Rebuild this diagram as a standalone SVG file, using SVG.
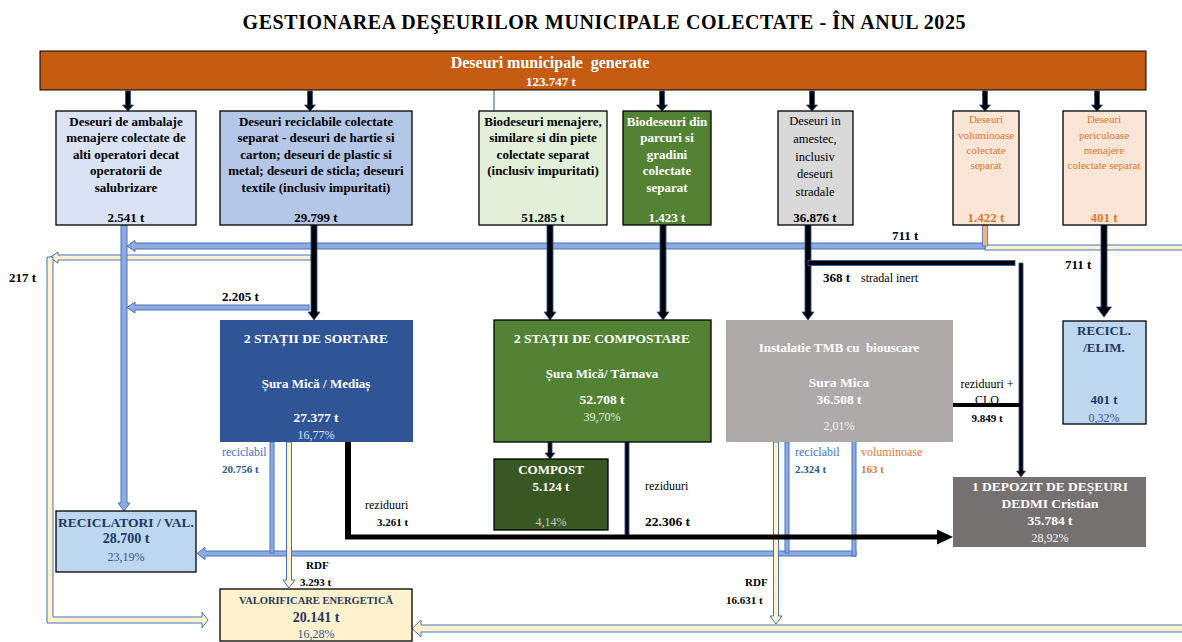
<svg xmlns="http://www.w3.org/2000/svg" width="1182" height="642" viewBox="0 0 1182 642">
<style>
text{font-family:"Liberation Serif","Times New Roman",serif;}
.b{font-weight:bold;}
.c{text-anchor:middle;}
.f12{font-size:13px;}
.f11{font-size:11px;}
.f13{font-size:13.5px;}
.f14{font-size:14px;}
.box{stroke:#000;stroke-width:1.3;}
.bk{fill:#000;stroke:#2F5597;stroke-width:0.9;}
.bl{fill:#8FAADC;stroke:#4472C4;stroke-width:1;}
.cr{fill:#FFF2CC;stroke:#4472C4;stroke-width:1;}
.wh{fill:#fff;}
.dk{fill:#1F3864;}
.mb{fill:#2F5597;}
.lb{fill:#4472C4;}
.or{fill:#E0782F;}
</style>

<text x="604" y="28.5" class="b c" style="font-size:20px" textLength="723" lengthAdjust="spacing">GESTIONAREA DEŞEURILOR MUNICIPALE COLECTATE - ÎN ANUL 2025</text>

<g id="connectors">
  <!-- top small arrows -->
  <polygon class="bk" points="125.5,91 130.5,91 130.5,105 133.5,105 128,111 122.5,105 125.5,105"/>
  <polygon class="bk" points="307.5,91 312.5,91 312.5,105 315.5,105 310,111 304.5,105 307.5,105"/>
  <polygon class="bk" points="659.5,91 664.5,91 664.5,105 667.5,105 662,111 656.5,105 659.5,105"/>
  <polygon class="bk" points="809.5,91 814.5,91 814.5,105 817.5,105 812,111 806.5,105 809.5,105"/>
  <polygon class="bk" points="982.5,91 987.5,91 987.5,105 990.5,105 985,111 979.5,105 982.5,105"/>
  <polygon class="bk" points="1094.5,91 1099.5,91 1099.5,105 1102.5,105 1097,111 1091.5,105 1094.5,105"/>
  <line x1="494" y1="90" x2="494" y2="111" stroke="#2F5597" stroke-width="1"/>

  <!-- cream flows -->
  <rect class="cr" x="985" y="245" width="200" height="5"/>
  <polygon class="cr" points="311,255 58,255 58,252 50,257.5 58,263 58,260 311,260"/>
  <polygon class="cr" points="47,257 53,257 53,617 202,617 202,612 208,620 202,628 202,623 47,623"/>
  <polygon class="cr" points="1185,625 421,625 421,620 412,628.5 421,637 421,632 1185,632"/>

  <!-- blue flows -->
  <polygon class="bl" points="121,225 127,225 127,503 130,503 124,511 118,503 121,503"/>
  <polygon class="bl" points="985,243 135,243 135,240.5 127,246 135,251.5 135,249 985,249"/>
  <polygon class="bl" points="309,305 135,305 135,302 127,307.5 135,313 135,310 309,310"/>
  <polygon class="bl" points="856,551 205,551 205,547.5 197,553.5 205,559.5 205,556 856,556"/>
  <rect class="bl" x="270" y="442" width="4" height="111"/>
  <rect class="bl" x="785" y="442" width="4" height="111"/>
  <rect class="bl" x="852" y="438" width="4" height="118"/>

  <!-- cream verticals -->
  <polygon class="cr" points="286.5,442 291.5,442 291.5,580 295,580 289,588 283,580 286.5,580"/>
  <polygon class="cr" points="773.5,442 778.5,442 778.5,616 782,616 776,624 770,616 773.5,616"/>

  <!-- orange stub -->
  <rect x="982.5" y="225" width="5" height="21" fill="#F4B183" stroke="#4472C4" stroke-width="0.8"/>

  <!-- black flows -->
  <polygon class="bk" points="311,225 317,225 317,312 320,312 314,320 308,312 311,312"/>
  <polygon class="bk" points="547,225 553,225 553,312 556,312 550,320 544,312 547,312"/>
  <polygon class="bk" points="660,225 666,225 666,312 669,312 663,320 657,312 660,312"/>
  <polygon class="bk" points="805,225 811,225 811,312 814,312 808,320 802,312 805,312"/>
  <polygon class="bk" points="1101,225 1107,225 1107,307 1111.5,307 1104,317 1096.5,307 1101,307"/>
  <rect class="bk" x="808" y="260.5" width="207" height="5"/>
  <polygon class="bk" points="1019,263 1023,263 1023,471 1025.5,471 1021,477 1016.5,471 1019,471"/>
  <rect x="953" y="403" width="68" height="4" fill="#000"/>
  <rect class="bk" x="625" y="442" width="4" height="93"/>
  <polygon fill="#000" points="345,442 351,442 351,534.5 937,534.5 937,529.5 953,537 937,544.5 937,539.5 345,539.5"/>
  <polygon class="bk" points="548,442 552,442 552,453 555,453 550,459 545,453 548,453"/>
</g>

<g id="n-generate">
  <rect x="40" y="51" width="1106" height="39" fill="#C55A11" stroke="#000" stroke-width="1"/>
  <text x="550" y="68" class="b c wh" style="font-size:16px" xml:space="preserve">Deseuri municipale  generate</text>
  <text x="551" y="86" class="b c wh f12">123.747 t</text>
</g>

<g id="n-ambalaje">
  <rect class="box" x="56" y="111" width="140" height="114" fill="#DAE3F3"/>
  <text class="b c f12" x="126"><tspan x="126" y="125.5">Deseuri de ambalaje</tspan><tspan x="126" y="142">menajere colectate de</tspan><tspan x="126" y="158.5">alti operatori decat</tspan><tspan x="126" y="175">operatorii de</tspan><tspan x="126" y="191.5">salubrizare</tspan><tspan x="126" y="221.5">2.541 t</tspan></text>
</g>

<g id="n-reciclabile">
  <rect class="box" x="220" y="111" width="192" height="114" fill="#B4C7E7"/>
  <text class="b c f12" x="316"><tspan x="316" y="125.5">Deseuri reciclabile colectate</tspan><tspan x="316" y="142">separat - deseuri de hartie si</tspan><tspan x="316" y="158.5">carton; deseuri de plastic si</tspan><tspan x="316" y="175">metal; deseuri de sticla; deseuri</tspan><tspan x="316" y="191.5">textile (inclusiv impuritati)</tspan><tspan x="316" y="221.5">29.799 t</tspan></text>
</g>

<g id="n-biodeseuri">
  <rect class="box" x="479" y="111" width="128" height="114" fill="#E2F0D9"/>
  <text class="b c f12" x="543"><tspan x="543" y="125.5">Biodeseuri menajere,</tspan><tspan x="543" y="142">similare si din piete</tspan><tspan x="543" y="158.5">colectate separat</tspan><tspan x="543" y="175">(inclusiv impuritati)</tspan><tspan x="543" y="221.5">51.285 t</tspan></text>
</g>

<g id="n-parcuri">
  <rect class="box" x="623" y="111" width="88" height="114" fill="#548235"/>
  <text class="b c f12 wh" x="667"><tspan x="667" y="125.5">Biodeseuri din</tspan><tspan x="667" y="142">parcuri si</tspan><tspan x="667" y="158.5">gradini</tspan><tspan x="667" y="175">colectate</tspan><tspan x="667" y="191.5">separat</tspan><tspan x="667" y="221.5">1.423 t</tspan></text>
</g>

<g id="n-amestec">
  <rect class="box" x="778" y="111" width="75" height="114" fill="#D9D9D9"/>
  <text class="c" x="815" style="font-size:12.5px"><tspan x="815" y="124.5">Deseuri in</tspan><tspan x="815" y="142.5">amestec,</tspan><tspan x="815" y="160.5">inclusiv</tspan><tspan x="815" y="177.5">deseuri</tspan><tspan x="815" y="195.5">stradale</tspan></text>
  <text class="b c f12" x="815" y="221.5">36.876 t</text>
</g>

<g id="n-voluminoase">
  <rect class="box" x="953" y="111" width="66" height="114" fill="#FBE5D6"/>
  <text class="c or f11" x="986"><tspan x="986" y="123">Deseuri</tspan><tspan x="986" y="138.5">voluminoase</tspan><tspan x="986" y="153.5">colectate</tspan><tspan x="986" y="169">separat</tspan></text>
  <text class="b c or f12" x="986" y="221.5">1.422 t</text>
</g>

<g id="n-periculoase">
  <rect class="box" x="1063" y="111" width="83" height="114" fill="#FBE5D6"/>
  <text class="c or f11" x="1104"><tspan x="1104" y="123">Deseuri</tspan><tspan x="1104" y="138.5">periculoase</tspan><tspan x="1104" y="153.5">menajere</tspan><tspan x="1104" y="169">colectate separat</tspan></text>
  <text class="b c or f12" x="1104" y="221.5">401 t</text>
</g>

<g id="n-sortare">
  <rect x="220" y="320" width="193" height="122" fill="#2F5597"/>
  <text class="b c wh f13" x="316" y="342.5">2 STAȚII DE SORTARE</text>
  <text class="b c wh f12" x="316" y="387.5">Șura Mică / Mediaș</text>
  <text class="b c wh f13" x="316" y="421.5">27.377 t</text>
  <text class="c" x="316" y="438.5" fill="#DAE3F3" style="font-size:12px">16,77%</text>
</g>

<g id="n-compostare">
  <rect class="box" x="494" y="320" width="217" height="122" fill="#548235"/>
  <text class="b c wh f13" x="602" y="342.5">2 STAȚII DE COMPOSTARE</text>
  <text class="b c wh f12" x="602" y="377.5">Șura Mică/ Târnava</text>
  <text class="b c wh f13" x="602" y="403.5">52.708 t</text>
  <text class="c" x="602" y="420.5" fill="#E2F0D9" style="font-size:12px">39,70%</text>
</g>

<g id="n-tmb">
  <rect x="726" y="320" width="227" height="122" fill="#AEAAAA"/>
  <text class="b c wh f12" x="839" y="351.5" xml:space="preserve">Instalatie TMB cu  biouscare</text>
  <text class="b c wh f13" x="839" y="386.5">Sura Mica</text>
  <text class="b c wh f13" x="839" y="403.5">36.508 t</text>
  <text class="c" x="839" y="429.5" fill="#F2F2F2" style="font-size:12px">2,01%</text>
</g>

<g id="n-reciclelim">
  <rect class="box" x="1063" y="321" width="83" height="103" fill="#BDD7EE"/>
  <text class="b c dk f12" x="1104" y="334.5">RECICL.</text>
  <text class="b c dk f12" x="1104" y="351.5">/ELIM.</text>
  <text class="b c dk f12" x="1104" y="403.5">401 t</text>
  <text class="c mb" x="1104" y="421.5" style="font-size:12px">0,32%</text>
</g>

<g id="n-compost">
  <rect class="box" x="494" y="459" width="114" height="71" fill="#385723"/>
  <text class="b c wh f12" x="551" y="473.5">COMPOST</text>
  <text class="b c wh f12" x="551" y="490.5">5.124 t</text>
  <text class="c" x="551" y="525.5" fill="#C9C9C9" style="font-size:12px">4,14%</text>
</g>

<g id="n-depozit">
  <rect x="953" y="477" width="193" height="70" fill="#767171"/>
  <text class="b c wh f13" x="1050" y="490.5">1 DEPOZIT DE DEȘEURI</text>
  <text class="b c wh f13" x="1050" y="507.5">DEDMI Cristian</text>
  <text class="b c wh f13" x="1050" y="525">35.784 t</text>
  <text class="c" x="1050" y="542" fill="#F2F2F2" style="font-size:12px">28,92%</text>
</g>

<g id="n-reciclatori">
  <rect class="box" x="56" y="511" width="140" height="61" fill="#BDD7EE"/>
  <text class="b c dk f13" x="126" y="526.5">RECICLATORI / VAL.</text>
  <text class="b c dk f14" x="126" y="543">28.700 t</text>
  <text class="c mb" x="126" y="561" style="font-size:12px">23,19%</text>
</g>

<g id="n-valorificare">
  <rect class="box" x="220" y="589" width="192" height="52" fill="#FFF2CC"/>
  <text class="b c dk" x="316" y="604" style="font-size:10.5px">VALORIFICARE ENERGETICĂ</text>
  <text class="b c dk f14" x="316" y="622">20.141 t</text>
  <text class="c mb" x="316" y="637.5" style="font-size:12px">16,28%</text>
</g>

<g id="labels">
  <text class="b f12" x="892" y="239.5">711 t</text>
  <text class="b f12" x="1065" y="268.5">711 t</text>
  <text class="b f12" x="9" y="281.5">217 t</text>
  <text class="b f12" x="222" y="300.5">2.205 t</text>
  <text class="b f12" x="823" y="281.5">368 t</text>
  <text x="861" y="281.5" style="font-size:12px">stradal inert</text>
  <text class="c" x="987" y="387.5" style="font-size:12px">reziduuri +</text>
  <text class="c" x="987" y="404" style="font-size:12px">CLO</text>
  <text class="b c f11" x="987" y="422">9.849 t</text>
  <text class="lb" x="222" y="456" style="font-size:12px">reciclabil</text>
  <text class="b mb f11" x="222" y="473">20.756 t</text>
  <text x="365" y="509" style="font-size:12px">reziduuri</text>
  <text class="b f11" x="377" y="526">3.261 t</text>
  <text x="645" y="490" style="font-size:12px">reziduuri</text>
  <text class="b f13" x="645" y="525.5">22.306 t</text>
  <text class="b f11" x="306" y="569">RDF</text>
  <text class="b f11" x="300" y="586">3.293 t</text>
  <text class="b f11" x="745" y="586">RDF</text>
  <text class="b f11" x="726" y="604">16.631 t</text>
  <text class="lb" x="795" y="456" style="font-size:12px">reciclabil</text>
  <text class="b mb f11" x="795" y="473">2.324 t</text>
  <text class="or" x="861" y="456" style="font-size:12px">voluminoase</text>
  <text class="b or f11" x="861" y="473">163 t</text>
</g>
</svg>
